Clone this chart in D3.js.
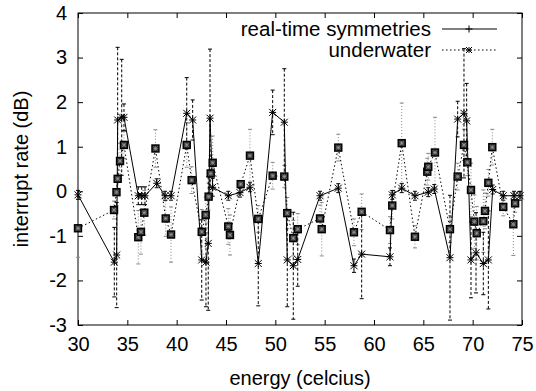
<!DOCTYPE html>
<html>
<head>
<meta charset="utf-8">
<script src="https://cdn.jsdelivr.net/npm/d3@7"></script>
<style>
  body { margin: 0; background: #fff; }
  text { font-family: "Liberation Sans", Arial, Helvetica, sans-serif; fill: #000; }
</style>
</head>
<body>
<svg id="chart" width="536" height="391"></svg>
<script>
// real-time symmetries (solid line)
const rtX = [30, 33.68, 33.92, 34.02, 34.43, 34.66, 36.11, 36.46, 36.79, 37.98, 38.82, 39.43,
  41.02, 41.62, 42.54, 42.97, 43.2, 43.38, 43.65, 45.23, 46.42, 47.43, 48.27, 49.73, 50.91,
  51.21, 51.82, 52.27, 54.53, 56.38, 57.97, 58.75, 61.62, 61.85, 62.81, 64.15, 65.5, 66.11,
  67.7, 68.48, 69.12, 69.39, 69.83, 70.34, 71.08, 71.59, 72.03, 73.1, 74.19, 74.8]
const rtY = [-0.08, -1.59, -1.43, 1.6, 1.66, 1.66, -0.1, -0.1, -0.1, 0.18, -0.1, -0.1,
  1.75, 1.6, -1.54, -1.59, -1.17, 1.64, 0.09, -0.1, -0.03, 0.09, -1.62, 1.77, 1.55,
  -1.54, -1.67, -1.53, -0.1, 0.07, -1.67, -1.41, -1.47, -0.08, 0.07, -0.1, -0.02, 0.05,
  -1.49, 1.62, 1.75, 1.58, -1.54, -1.38, -1.62, -1.54, 0.04, -0.1, -0.1, -0.1]
const rtErr = [0.1, 0.78, 1.18, 1.63, 1.3, 0.3, 0.2, 0.2, 0.2, 0.1, 0.1, 0.1,
  0.8, 0.45, 0.9, 1.0, 1.5, 1.55, 0.2, 0.1, 0.1, 0.1, 0.95, 0.5, 1.2,
  1.05, 1.2, 0.6, 0.1, 0.1, 0.15, 1.0, 0.2, 0.1, 0.1, 0.1, 0.1, 0.1,
  1.4, 0.4, 1.45, 0.84, 0.85, 0.9, 0.7, 1.1, 0.1, 0.1, 0.1, 0.1]

// underwater (dotted line)
const uwX = [30, 33.65, 33.9, 34.02, 34.26, 34.66, 36.11, 36.38, 36.72, 37.85, 38.89, 39.43,
  41.02, 41.52, 42.54, 42.94, 43.24, 43.45, 43.65, 45.23, 45.4, 46.49, 47.43, 48.27, 49.73,
  50.91, 51.21, 51.82, 52.27, 54.53, 54.7, 56.38, 57.97, 58.75, 61.62, 61.85, 62.81, 64.15,
  65.4, 65.5, 66.18, 67.7, 68.48, 69.12, 69.46, 69.83, 70.17, 70.41, 71.08, 71.25, 71.59,
  71.99, 73.1, 74.12, 74.3]
const uwY = [-0.83, -0.42, -0.02, 0.28, 0.68, 1.04, -1.03, -0.91, -0.48, 0.96, -0.61, -0.97,
  1.04, 0.25, -0.91, -0.53, -0.12, 0.4, 0.64, -0.79, -0.98, 0.16, 0.8, -0.62, 0.35,
  0.33, -0.49, -1.05, -0.85, -0.61, -0.85, 0.98, -0.92, -0.46, -0.87, -0.32, 1.08, -1.02,
  0.44, 0.55, 0.87, -0.85, 0.33, 1.04, 0.65, 0.03, -0.68, -0.94, -0.67, -0.44, 0.19,
  0.99, -0.35, -0.74, -0.27]
const uwErr = [0.65, 0.2, 0.3, 0.3, 0.4, 0.3, 0.6, 0.5, 0.5, 0.42, 0.4, 0.62,
  0.5, 0.3, 0.5, 0.4, 0.3, 0.4, 0.6, 0.4, 0.45, 0.05, 0.59, 0.3, 0.3,
  0.25, 0.35, 0.4, 0.35, 0.3, 0.6, 0.3, 0.3, 0.4, 0.3, 0.3, 0.9, 0.25,
  0.3, 0.3, 0.79, 0.3, 0.3, 0.35, 0.3, 0.6, 0.6, 0.6, 0.7, 0.4, 0.3,
  0.4, 0.2, 0.7, 0.2]

const xTicks = [30, 35, 40, 45, 50, 55, 60, 65, 70, 75]
const yTicks = [-3, -2, -1, 0, 1, 2, 3, 4]

const svg = d3.select('#chart')
const plotL = 78, plotR = 522, plotT = 13, plotB = 325

const x = d3.scaleLinear().domain([30, 75]).range([plotL, plotR])
const y = d3.scaleLinear().domain([-3, 4]).range([plotB, plotT])

const rt = rtX.map((v, i) => ({x: v, y: rtY[i], e: rtErr[i]}))
const uw = uwX.map((v, i) => ({x: v, y: uwY[i], e: uwErr[i]}))

// axes, ticks pointing inward on all four sides
const fmt = d => String(d)
svg.append('g').attr('transform', `translate(0,${plotB})`)
    .call(d3.axisBottom(x).tickValues(xTicks).tickSize(-5).tickPadding(12).tickFormat(fmt))
svg.append('g').attr('transform', `translate(0,${plotT})`)
    .call(d3.axisTop(x).tickValues(xTicks).tickSize(-5).tickFormat(''))
svg.append('g').attr('transform', `translate(${plotL},0)`)
    .call(d3.axisLeft(y).tickValues(yTicks).tickSize(-5).tickPadding(11).tickFormat(fmt))
svg.append('g').attr('transform', `translate(${plotR},0)`)
    .call(d3.axisRight(y).tickValues(yTicks).tickSize(-5).tickFormat(''))
svg.selectAll('.domain').remove()
svg.selectAll('.tick line').attr('stroke', '#000')
svg.selectAll('.tick text').style('font-size', '20px').attr('fill', '#000')

svg.append('rect')
    .attr('x', plotL).attr('y', plotT)
    .attr('width', plotR - plotL).attr('height', plotB - plotT)
    .attr('fill', 'none').attr('stroke', '#000')

// axis titles
svg.append('text')
    .attr('x', (plotL + plotR) / 2).attr('y', 385)
    .attr('text-anchor', 'middle').style('font-size', '20px')
    .text('energy (celcius)')
svg.append('text')
    .attr('transform', `translate(28,${(plotT + plotB) / 2}) rotate(-90)`)
    .attr('text-anchor', 'middle').style('font-size', '20px')
    .text('interrupt rate (dB)')

function errorBars(data, cls, color, dash) {
    const g = svg.append('g').attr('class', cls)
        .attr('stroke', color).attr('fill', 'none')
    g.selectAll('line.v').data(data).enter().append('line')
        .attr('x1', d => x(d.x)).attr('x2', d => x(d.x))
        .attr('y1', d => y(d.y + d.e)).attr('y2', d => y(d.y - d.e))
        .attr('stroke-dasharray', dash)
    g.selectAll('line.t').data(data).enter().append('line')
        .attr('x1', d => x(d.x) - 2).attr('x2', d => x(d.x) + 2)
        .attr('y1', d => y(d.y + d.e)).attr('y2', d => y(d.y + d.e))
    g.selectAll('line.b').data(data).enter().append('line')
        .attr('x1', d => x(d.x) - 2).attr('x2', d => x(d.x) + 2)
        .attr('y1', d => y(d.y - d.e)).attr('y2', d => y(d.y - d.e))
}

function star(g, cx, cy, r, color, w) {
    const p = `M${cx - r},${cy}H${cx + r}M${cx},${cy - r}V${cy + r}` +
        `M${cx - r},${cy - r}L${cx + r},${cy + r}M${cx - r},${cy + r}L${cx + r},${cy - r}`
    g.append('path').attr('d', p).attr('stroke', color).attr('stroke-width', w).attr('fill', 'none')
}

const line = d3.line().x(d => x(d.x)).y(d => y(d.y))

// underwater
errorBars(uw, 'uw-err', '#888', '1,2')
svg.append('path').datum(uw)
    .attr('d', line).attr('fill', 'none')
    .attr('stroke', '#000').attr('stroke-dasharray', '1.5,2.5')

// real-time symmetries
errorBars(rt, 'rt-err', '#000', '3,2')
svg.append('path').datum(rt)
    .attr('d', line).attr('fill', 'none').attr('stroke', '#000')

const uwPts = svg.append('g')
uw.forEach(d => {
    uwPts.append('rect')
        .attr('x', x(d.x) - 3.5).attr('y', y(d.y) - 3.5)
        .attr('width', 7).attr('height', 7)
        .attr('fill', '#333').attr('stroke', '#000').attr('stroke-width', 1.4)
    star(uwPts, x(d.x), y(d.y), 2, '#999', 0.7)
})
const rtPts = svg.append('g')
rt.forEach(d => star(rtPts, x(d.x), y(d.y), 3.5, '#000', 1))

// legend
const key = svg.append('g')
key.append('text').attr('x', 431).attr('y', 29).attr('dy', '0.35em')
    .attr('text-anchor', 'end').style('font-size', '20.5px').text('real-time symmetries')
key.append('line').attr('x1', 442).attr('x2', 497).attr('y1', 29).attr('y2', 29)
    .attr('stroke', '#000')
key.append('path').attr('d', 'M465.5,29H472.5M469,25.5V32.5').attr('stroke', '#000')
key.append('text').attr('x', 431).attr('y', 50).attr('dy', '0.35em')
    .attr('text-anchor', 'end').style('font-size', '20.5px').text('underwater')
key.append('line').attr('x1', 442).attr('x2', 497).attr('y1', 50).attr('y2', 50)
    .attr('stroke', '#000').attr('stroke-dasharray', '1.5,2.5')
star(key, 469, 50, 3, '#000', 1)
</script>
</body>
</html>
